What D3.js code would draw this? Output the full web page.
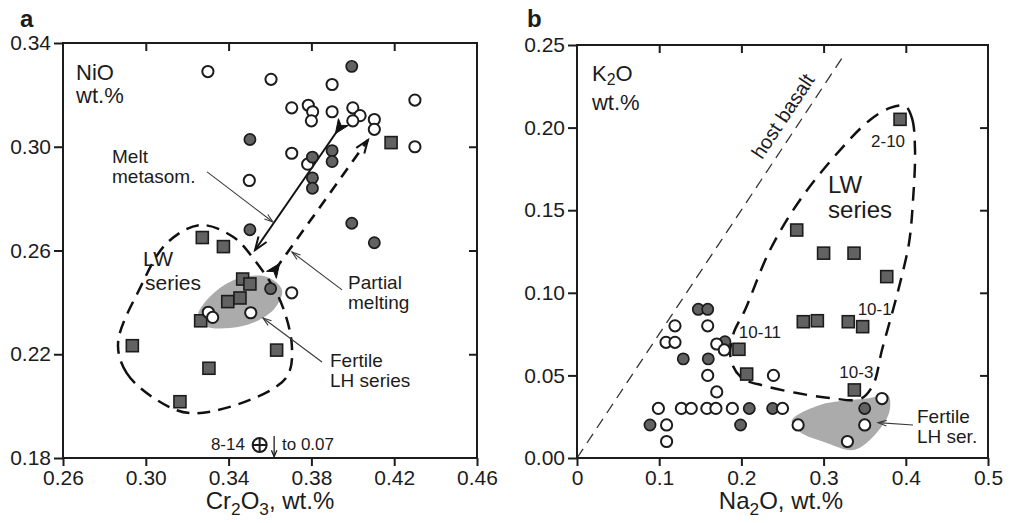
<!DOCTYPE html>
<html>
<head>
<meta charset="utf-8">
<script src="https://cdn.jsdelivr.net/npm/d3@7"></script>
<style>
  body { margin: 0; background: #fff; }
  svg text { font-family: "Liberation Sans", Arial, Helvetica, sans-serif; }
</style>
</head>
<body>
<svg id="fig" width="1011" height="523"></svg>
<script>
// ---------- Panel a: Cr2O3 vs NiO (wt.%) ----------
const xTicksA = [0.26, 0.30, 0.34, 0.38, 0.42, 0.46];
const yTicksA = [0.18, 0.22, 0.26, 0.30, 0.34];
const xTopTicksA = [0.30, 0.34, 0.38, 0.42];
const yRightTicksA = [0.22, 0.26, 0.30];

// LH series, open circles [Cr2O3, NiO]
const openA = [
  [0.330, 0.329], [0.3605, 0.326], [0.390, 0.324], [0.430, 0.318],
  [0.3705, 0.315], [0.3785, 0.316], [0.3806, 0.3135], [0.380, 0.310],
  [0.390, 0.3135], [0.400, 0.315], [0.4035, 0.312], [0.400, 0.310],
  [0.4104, 0.3105], [0.4104, 0.3067], [0.430, 0.300], [0.3705, 0.2975],
  [0.3782, 0.2933], [0.350, 0.287], [0.3705, 0.2437], [0.3302, 0.2362],
  [0.3323, 0.2342], [0.3507, 0.236]
];
// LH series, grey-filled circles
const filledA = [
  [0.3995, 0.331], [0.3503, 0.3028], [0.3805, 0.296], [0.390, 0.2985],
  [0.390, 0.2943], [0.3805, 0.288], [0.3805, 0.284], [0.3995, 0.2705],
  [0.4104, 0.263], [0.3503, 0.268], [0.3603, 0.2453]
];
// LW series, squares
const squaresA = [
  [0.4185, 0.3016], [0.3273, 0.265], [0.3375, 0.2615], [0.3468, 0.249],
  [0.3503, 0.2471], [0.3396, 0.2403], [0.3455, 0.2417], [0.3265, 0.2329],
  [0.2935, 0.2233], [0.3632, 0.2216], [0.3305, 0.2146], [0.3165, 0.2017]
];
// sample 8-14 (off-scale NiO, down to 0.07)
const outlierA = [0.355, 0.185];

// outline of the LW series field
const lwFieldA = [
  [0.2866, 0.2243], [0.2908, 0.2127], [0.3053, 0.2024], [0.3213, 0.1973],
  [0.3503, 0.2024], [0.3681, 0.2113], [0.3706, 0.2228], [0.3648, 0.2409],
  [0.3518, 0.2571], [0.3421, 0.2653], [0.3262, 0.2698], [0.3101, 0.2628],
  [0.2972, 0.2455]
];
// fertile LH series field
const fertileA = [
  [0.3252, 0.2351], [0.3334, 0.2440], [0.3455, 0.2494], [0.3586, 0.2498],
  [0.3658, 0.2448], [0.3624, 0.2378], [0.3527, 0.2324], [0.3407, 0.2301],
  [0.3286, 0.2309]
];
// trend arrows [from, to]
const meltArrowA = [[0.3938, 0.3076], [0.3528, 0.2602]];
const partialArrowA = [[0.3624, 0.2525], [0.4073, 0.3026]];

// ---------- Panel b: Na2O vs K2O (wt.%) ----------
const xTicksB = [0, 0.1, 0.2, 0.3, 0.4, 0.5];
const xLabelsB = ["0", "0.1", "0.2", "0.3", "0.4", "0.5"];
const yTicksB = [0, 0.05, 0.10, 0.15, 0.20, 0.25];
const xTopTicksB = [0.1, 0.2, 0.3, 0.4];
const yRightTicksB = [0.05, 0.10, 0.15, 0.20];

const openB = [
  [0.1192, 0.080], [0.159, 0.080], [0.1083, 0.070], [0.1192, 0.070],
  [0.170, 0.069], [0.1792, 0.0654], [0.159, 0.050], [0.239, 0.050],
  [0.170, 0.040], [0.099, 0.030], [0.127, 0.030], [0.139, 0.030],
  [0.158, 0.030], [0.169, 0.030], [0.189, 0.030], [0.250, 0.030],
  [0.109, 0.020], [0.109, 0.010], [0.371, 0.036], [0.350, 0.020],
  [0.329, 0.010], [0.269, 0.020]
];
const filledB = [
  [0.1476, 0.090], [0.159, 0.090], [0.180, 0.0704], [0.1293, 0.060],
  [0.1597, 0.060], [0.2096, 0.030], [0.238, 0.030], [0.0888, 0.020],
  [0.199, 0.020], [0.350, 0.030]
];
const squaresB = [
  [0.393, 0.205], [0.2673, 0.138], [0.300, 0.124], [0.337, 0.124],
  [0.3768, 0.1098], [0.2753, 0.0825], [0.2924, 0.0831], [0.330, 0.0825],
  [0.3475, 0.0795], [0.197, 0.0658], [0.2064, 0.0508], [0.3374, 0.0412]
];
const sampleNamesB = ["2-10", "10-1", "10-11", "10-3"];
const samplePointsB = [[0.393, 0.205], [0.3475, 0.0795], [0.197, 0.0658], [0.3374, 0.0412]];

const lwFieldB = [
  [0.399, 0.2131], [0.4075, 0.2058], [0.4112, 0.1864], [0.4088, 0.1562],
  [0.4039, 0.1301], [0.393, 0.1059], [0.3844, 0.0896], [0.371, 0.0654],
  [0.3601, 0.0442], [0.3443, 0.0357], [0.3078, 0.0363], [0.2676, 0.0393],
  [0.2287, 0.0436], [0.2007, 0.0484], [0.1873, 0.0593], [0.1898, 0.0745],
  [0.2044, 0.0896], [0.2348, 0.1259], [0.2713, 0.1562], [0.320, 0.1864],
  [0.3564, 0.2046], [0.3808, 0.2119]
];
const fertileB = [
  [0.2612, 0.0224], [0.2956, 0.0321], [0.3564, 0.0363], [0.3783, 0.0381],
  [0.3796, 0.0272], [0.3564, 0.0109], [0.3358, 0.0048], [0.3038, 0.0091],
  [0.2713, 0.0157]
];
// host basalt K2O/Na2O trend
const hostBasaltB = [[0, 0], [0.325, 0.244]];

// ---------- drawing ----------
const ink = "#1c1c1c";
const greyFill = "#626262";
const fieldGrey = "#ababab";
const svg = d3.select("#fig");

const xA = d3.scaleLinear().domain([0.26, 0.46]).range([63, 477]);
const yA = d3.scaleLinear().domain([0.18, 0.34]).range([458, 43]);
const xB = d3.scaleLinear().domain([0, 0.5]).range([577, 988]);
const yB = d3.scaleLinear().domain([0, 0.25]).range([458, 45]);

function frame(g, x, y, xt, yt, xtTop, ytRight, xFmt, yFmt) {
  const [x0, x1] = x.range(), [y0, y1] = y.range();
  const axes = [
    g.append("g").attr("transform", `translate(0,${y0})`)
      .call(d3.axisBottom(x).tickValues(xt).tickFormat(xFmt).tickSize(8).tickPadding(4)),
    g.append("g").attr("transform", `translate(${x0},0)`)
      .call(d3.axisLeft(y).tickValues(yt).tickFormat(yFmt).tickSize(9).tickPadding(3)),
    g.append("g").attr("transform", `translate(0,${y1})`)
      .call(d3.axisTop(x).tickValues(xtTop).tickFormat("").tickSize(-8)),
    g.append("g").attr("transform", `translate(${x1},0)`)
      .call(d3.axisRight(y).tickValues(ytRight).tickFormat("").tickSize(-8))
  ];
  axes.forEach(a => {
    a.select(".domain").remove();
    a.selectAll("line").attr("stroke", ink).attr("stroke-width", 2);
    a.selectAll("text").attr("font-size", 21).attr("fill", ink)
      .attr("font-family", '"Liberation Sans", Arial, sans-serif');
  });
  g.append("rect").attr("x", x0).attr("y", y1).attr("width", x1 - x0).attr("height", y0 - y1)
    .attr("fill", "none").attr("stroke", ink).attr("stroke-width", 2);
}

// text with optional subscripts: parts = ["K", {sub:"2"}, "O"]
function label(g, x, y, parts, size, opts = {}) {
  const t = g.append("text").attr("x", x).attr("y", y).attr("font-size", size)
    .attr("fill", ink).attr("text-anchor", opts.anchor || "start")
    .attr("font-weight", opts.weight || "normal");
  if (opts.rotate) t.attr("transform", `rotate(${opts.rotate},${x},${y})`);
  let shift = 0;
  [].concat(parts).forEach(p => {
    if (typeof p === "string") {
      t.append("tspan").attr("dy", -shift).text(p);
      shift = 0;
    } else {
      const s = size * (opts.subShift || 0.26);
      t.append("tspan").attr("dy", s - shift).attr("font-size", size * 0.72).text(p.sub);
      shift = s;
    }
  });
  return t;
}

function head(g, p, q, len, spread, width, color) {
  const a = Math.atan2(q[1] - p[1], q[0] - p[0]);
  const pts = [
    [q[0] - len * Math.cos(a - spread), q[1] - len * Math.sin(a - spread)],
    q,
    [q[0] - len * Math.cos(a + spread), q[1] - len * Math.sin(a + spread)]
  ];
  g.append("path").attr("d", d3.line()(pts)).attr("fill", "none")
    .attr("stroke", color).attr("stroke-width", width).attr("stroke-linejoin", "miter");
}

function leader(g, p, q) {
  g.append("line").attr("x1", p[0]).attr("y1", p[1]).attr("x2", q[0]).attr("y2", q[1])
    .attr("stroke", "#3a3a3a").attr("stroke-width", 1.1);
  head(g, p, q, 9, 0.32, 1.1, "#3a3a3a");
}

// dark notched tail marking where a trend arrow starts
function tail(g, p, q) {
  const a = Math.atan2(q[1] - p[1], q[0] - p[0]);
  const c = Math.cos(a), s = Math.sin(a);
  const P = (u, v) => [p[0] + u * c - v * s, p[1] + u * s + v * c];
  g.append("path").attr("d", d3.line()([P(8, 0), P(-6, 6), P(-2, 0), P(-6, -6)]) + "Z")
    .attr("fill", "#111").attr("stroke", "#111").attr("stroke-width", 1);
}

function trendArrow(g, x, y, seg, dashed) {
  const p = [x(seg[0][0]), y(seg[0][1])], q = [x(seg[1][0]), y(seg[1][1])];
  const ln = g.append("line").attr("x1", p[0]).attr("y1", p[1]).attr("x2", q[0]).attr("y2", q[1])
    .attr("stroke", "#111").attr("stroke-width", dashed ? 2.6 : 2);
  if (dashed) ln.attr("stroke-dasharray", "11,8");
  head(g, p, q, 14, 0.36, 2, "#111");
  tail(g, p, q);
}

function symbols(g, x, y, open, filled, squares, order) {
  const r = 5.6, side = 12;
  const draw = {
    open: () => g.append("g").selectAll("circle").data(open).join("circle")
      .attr("cx", d => x(d[0])).attr("cy", d => y(d[1])).attr("r", r)
      .attr("fill", "#fff").attr("stroke", ink).attr("stroke-width", 2),
    filled: () => g.append("g").selectAll("circle").data(filled).join("circle")
      .attr("cx", d => x(d[0])).attr("cy", d => y(d[1])).attr("r", r)
      .attr("fill", greyFill).attr("stroke", ink).attr("stroke-width", 1.7),
    squares: () => g.append("g").selectAll("rect").data(squares).join("rect")
      .attr("x", d => x(d[0]) - side / 2).attr("y", d => y(d[1]) - side / 2)
      .attr("width", side).attr("height", side)
      .attr("fill", greyFill).attr("stroke", ink).attr("stroke-width", 1.6)
  };
  order.forEach(k => draw[k]());
}

function field(g, x, y, pts, fill, stroke, dash) {
  const path = d3.line().x(d => x(d[0])).y(d => y(d[1])).curve(d3.curveCatmullRomClosed.alpha(0.5));
  const el = g.append("path").attr("d", path(pts)).attr("fill", fill || "none");
  if (stroke) el.attr("stroke", stroke).attr("stroke-width", 2.5).attr("stroke-dasharray", dash);
}

// ===== panel a =====
const ga = svg.append("g");
field(ga, xA, yA, fertileA, fieldGrey);
field(ga, xA, yA, lwFieldA, null, "#111", "13,8");
trendArrow(ga, xA, yA, meltArrowA, false);
trendArrow(ga, xA, yA, partialArrowA, true);

leader(ga, [xA(0.3296), yA(0.2903)], [xA(0.3614), yA(0.2710)]);
leader(ga, [xA(0.3948), yA(0.2448)], [xA(0.3706), yA(0.2594)]);
leader(ga, [xA(0.3851), yA(0.2170)], [xA(0.3566), yA(0.2340)]);

symbols(ga, xA, yA, openA, filledA, squaresA, ["squares", "open", "filled"]);

// sample 8-14: crossed circle with off-scale arrow
const ox = xA(outlierA[0]), oy = yA(outlierA[1]);
ga.append("circle").attr("cx", ox).attr("cy", oy).attr("r", 7).attr("fill", "#fff")
  .attr("stroke", ink).attr("stroke-width", 2);
ga.append("path").attr("d", `M${ox - 7},${oy}H${ox + 7}M${ox},${oy - 7}V${oy + 7}`)
  .attr("stroke", ink).attr("stroke-width", 2);
const dx0 = xA(0.362);
ga.append("line").attr("x1", dx0).attr("y1", yA(0.1885)).attr("x2", dx0).attr("y2", yA(0.1805))
  .attr("stroke", ink).attr("stroke-width", 1.3);
head(ga, [dx0, yA(0.1885)], [dx0, yA(0.1805)], 7, 0.4, 1.3, ink);
label(ga, xA(0.3479), yA(0.1831), "8-14", 17, { anchor: "end" });
label(ga, xA(0.3658), yA(0.1831), "to 0.07", 17);

label(ga, xA(0.2663), yA(0.3257), "NiO", 22);
label(ga, xA(0.2663), yA(0.3168), "wt.%", 22);
label(ga, xA(0.2837), yA(0.2937), "Melt", 19);
label(ga, xA(0.2837), yA(0.2860), "metasom.", 19);
label(ga, xA(0.3977), yA(0.2452), "Partial", 19);
label(ga, xA(0.3977), yA(0.2376), "melting", 19);
label(ga, xA(0.3890), yA(0.2150), "Fertile", 19);
label(ga, xA(0.3890), yA(0.2074), "LH series", 19);
label(ga, xA(0.2987), yA(0.2540), "LW", 21);
label(ga, xA(0.2996), yA(0.2448), "series", 21);

frame(ga, xA, yA, xTicksA, yTicksA, xTopTicksA, yRightTicksA, d3.format(".2f"), d3.format(".2f"));
label(ga, 270, 509, ["Cr", { sub: "2" }, "O", { sub: "3" }, ", wt.%"], 24, { anchor: "middle" });
label(svg, 20, 27, "a", 24, { weight: "bold" });

// ===== panel b =====
const gb = svg.append("g");
field(gb, xB, yB, fertileB, fieldGrey);
field(gb, xB, yB, lwFieldB, null, "#111", "14,9");
gb.append("line")
  .attr("x1", xB(hostBasaltB[0][0])).attr("y1", yB(hostBasaltB[0][1]))
  .attr("x2", xB(hostBasaltB[1][0])).attr("y2", yB(hostBasaltB[1][1]))
  .attr("stroke", "#333").attr("stroke-width", 1.3).attr("stroke-dasharray", "11,7");
const hbAngle = Math.atan2(yB(hostBasaltB[1][1]) - yB(0), xB(hostBasaltB[1][0]) - xB(0)) * 180 / Math.PI;
label(gb, xB(0.2575), yB(0.2047), "host basalt", 20, { anchor: "middle", rotate: hbAngle });

leader(gb, [xB(0.4088), yB(0.020)], [xB(0.3662), yB(0.0214)]);

symbols(gb, xB, yB, openB, filledB, squaresB, ["filled", "open", "squares"]);

const sampleOffsets = [[-12, 28], [12, -12], [21, -11], [2, -12]];
sampleNamesB.forEach((n, i) => {
  const p = samplePointsB[i];
  label(gb, xB(p[0]) + sampleOffsets[i][0], yB(p[1]) + sampleOffsets[i][1], n, 17, { anchor: "middle" });
});

label(gb, xB(0.0182), yB(0.2282), ["K", { sub: "2" }, "O"], 22, { subShift: 0.2 });
label(gb, xB(0.0182), yB(0.2105), "wt.%", 22);
label(gb, xB(0.3054), yB(0.1604), "LW", 24);
label(gb, xB(0.3054), yB(0.1453), "series", 24);
label(gb, xB(0.4136), yB(0.0212), "Fertile", 19);
label(gb, xB(0.4136), yB(0.0091), "LH ser.", 19);

frame(gb, xB, yB, xTicksB, yTicksB, xTopTicksB, yRightTicksB, (d, i) => xLabelsB[i], d3.format(".2f"));
label(gb, 781, 509, ["Na", { sub: "2" }, "O, wt.%"], 24, { anchor: "middle" });
label(svg, 527, 27, "b", 24, { weight: "bold" });
</script>
</body>
</html>
